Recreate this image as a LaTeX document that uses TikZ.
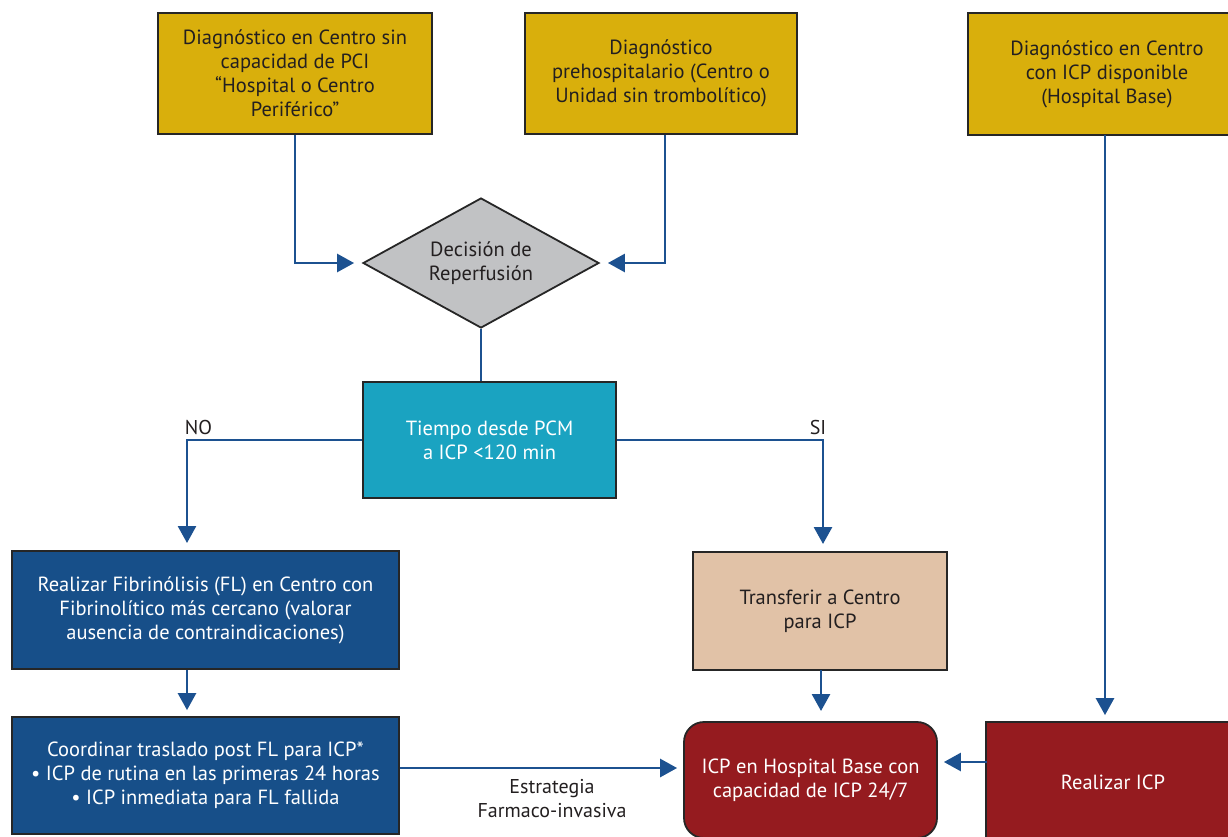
\documentclass[tikz,border=0pt]{standalone}
\usepackage{fontspec}
\setmainfont{PT Sans}
\usetikzlibrary{shapes.geometric,arrows.meta,calc}
\definecolor{goldbox}{HTML}{D9AF0C}
\definecolor{tealbox}{HTML}{1AA3C1}
\definecolor{bluebox}{HTML}{174F89}
\definecolor{tanbox}{HTML}{E1C2A7}
\definecolor{redbox}{HTML}{951B1F}
\definecolor{graybox}{HTML}{C1C2C4}
\definecolor{boxline}{HTML}{262626}
\definecolor{arrowblue}{HTML}{1C5190}
\definecolor{darktext}{HTML}{231F20}
\begin{document}
\begin{tikzpicture}[x=1pt,y=-1pt,
  box/.style={draw=boxline, line width=1.8pt, inner sep=0pt, align=center,
    font=\fontsize{20.5}{24}\selectfont},
  darkbox/.style={box, text=darktext},
  lightbox/.style={box, text=white},
  conn/.style={draw=arrowblue, line width=2.7pt},
  arr/.style={conn, -{Triangle[length=17pt,width=18pt]}},
  lbl/.style={inner sep=0pt, align=center, text=darktext, font=\fontsize{20}{24}\selectfont}]
\useasboundingbox (0,0) rectangle (1228,836);
\clip (0,0) rectangle (1228,836);
\fill[white] (0,0) rectangle (1228,836);

% top boxes
\node[darkbox, fill=goldbox, minimum width=274pt, minimum height=121pt] (b1) at (295,73.5)
  {Diagnóstico en Centro sin\\capacidad de PCI\\“Hospital o Centro\\Periférico”};
\node[darkbox, fill=goldbox, minimum width=272pt, minimum height=121pt] (b2) at (661,73.5)
  {Diagnóstico\\prehospitalario (Centro o\\Unidad sin trombolítico)};
\node[darkbox, fill=goldbox, minimum width=278pt, minimum height=122pt] (b3) at (1107,74)
  {Diagnóstico en Centro\\con ICP disponible\\(Hospital Base)};

% decision
\node[darkbox, diamond, shape aspect=1.8, fill=graybox, minimum width=236pt, minimum height=130pt] (d) at (481,263)
  {Decisión de\\Reperfusión};

% time box
\node[lightbox, fill=tealbox, minimum width=253pt, minimum height=116pt] (t) at (489.5,440)
  {Tiempo desde PCM\\a ICP <120 min};

% left column
\node[lightbox, fill=bluebox, minimum width=387pt, minimum height=118pt] (fl) at (205.5,610)
  {Realizar Fibrinólisis (FL) en Centro con\\Fibrinolítico más cercano (valorar\\ausencia de contraindicaciones)};
\node[lightbox, fill=bluebox, minimum width=387pt, minimum height=117pt] (co) at (205.5,775.5)
  {Coordinar traslado post FL para ICP*\\• ICP de rutina en las primeras 24 horas\\• ICP inmediata para FL fallida};

% right side
\node[darkbox, fill=tanbox, minimum width=254pt, minimum height=118pt] (tr) at (820,611)
  {Transferir a Centro\\para ICP};
\node[lightbox, fill=redbox, rounded corners=20pt, minimum width=253pt, minimum height=116pt] (hb) at (810.5,780)
  {ICP en Hospital Base con\\capacidad de ICP 24/7};
\node[lightbox, fill=redbox, minimum width=254pt, minimum height=120pt] (ri) at (1113,782)
  {Realizar ICP};

% coordinates for off-centre connector ends
\coordinate (b2out) at ($(b2.south)+(4,0)$);
\coordinate (dout) at (d.south);
\coordinate (tin) at (d.south |- t.north);
\coordinate (flin) at (187,551);
\coordinate (flout) at (flin |- fl.south);
\coordinate (coin) at (flin |- co.north);
\coordinate (trin) at (823,552);
\coordinate (trout) at (821,670);
\coordinate (hbin) at (821,722);
\coordinate (b3out) at (1105,135);
\coordinate (riin) at (b3out |- ri.north);
\coordinate (riout) at (987,762);
\coordinate (hbright) at (riout -| hb.east);
\coordinate (coout) at (co.east |- 0,768);
\coordinate (hbleft) at (hb.west |- 0,768);

% connectors
\draw[arr, shorten >=8pt] (b1.south) |- (d.west);
\draw[arr, shorten >=8pt] (b2out) |- (d.east);
\draw[conn] (dout) -- (tin);
\draw[arr, shorten >=8pt] (t.west) -| (flin);
\draw[arr, shorten >=8pt] (t.east) -| (trin);
\draw[arr, shorten >=6pt] (flout) -- (coin);
\draw[arr, shorten >=11pt] (trout) -- (hbin);
\draw[arr, shorten >=6pt] (b3out) -- (riin);
\draw[arr, shorten >=6pt] (riout) -- (hbright);
\draw[arr, shorten >=6pt] (coout) -- (hbleft);

% labels
\node[lbl] (no) at (198.5,427) {NO};
\node[lbl] (si) at (818,427) {SI};
\node[lbl] (est) at (552,799) {Estrategia\\Farmaco-invasiva};
\end{tikzpicture}
\end{document}
